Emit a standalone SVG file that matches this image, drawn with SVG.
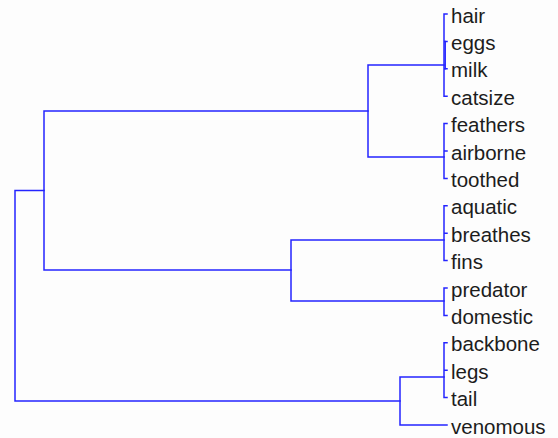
<svg xmlns="http://www.w3.org/2000/svg" width="558" height="438" viewBox="0 0 558 438">
  <style>
    .link { fill: none; stroke: #2424ff; stroke-width: 1.5; stroke-linejoin: miter; stroke-linecap: square; }
    .leaf { font-family: "Liberation Sans", Arial, sans-serif; font-size: 20.5px; fill: #1c1c1c; }
  </style>
  <rect width="558" height="438" fill="#fdfdfd"/>

  <!-- dendrogram branches -->
  <g id="connectors" class="link">
    <!-- root -->
    <path d="M44,190.5 H15 V401 H400"/>
    <!-- node A -->
    <path d="M368,111 H44 V270 H291"/>
    <!-- node B -->
    <path d="M444,65 H368 V157 H444"/>
    <!-- node C -->
    <path d="M444,240 H291 V301 H444"/>
    <!-- node D -->
    <path d="M444,377 H400 V425 H447"/>

    <!-- hair / eggs / milk / catsize -->
    <path d="M447,14 H444 V96.2 H447 M444,41.4 H447 M444,68.8 H447"/>
    <path d="M445.2,41.4 V68.8"/>
    <!-- feathers / airborne / toothed -->
    <path d="M447,123.6 H444 V178.4 H447 M444,151 H447"/>
    <!-- aquatic / breathes / fins -->
    <path d="M447,205.8 H444 V260.6 H447 M444,233.2 H447"/>
    <!-- predator / domestic -->
    <path d="M447,288 H444 V315.4 H447"/>
    <!-- backbone / legs / tail -->
    <path d="M447,342.8 H444 V397.6 H447 M444,370.2 H447"/>
  </g>

  <!-- leaves -->
  <g id="hair"><text class="leaf" x="451" y="22.5">hair</text></g>
  <g id="eggs"><text class="leaf" x="451" y="49.9">eggs</text></g>
  <g id="milk"><text class="leaf" x="451" y="77.3">milk</text></g>
  <g id="catsize"><text class="leaf" x="451" y="104.7">catsize</text></g>
  <g id="feathers"><text class="leaf" x="451" y="132.1">feathers</text></g>
  <g id="airborne"><text class="leaf" x="451" y="159.5">airborne</text></g>
  <g id="toothed"><text class="leaf" x="451" y="186.9">toothed</text></g>
  <g id="aquatic"><text class="leaf" x="451" y="214.3">aquatic</text></g>
  <g id="breathes"><text class="leaf" x="451" y="241.7">breathes</text></g>
  <g id="fins"><text class="leaf" x="451" y="269.1">fins</text></g>
  <g id="predator"><text class="leaf" x="451" y="296.5">predator</text></g>
  <g id="domestic"><text class="leaf" x="451" y="323.9">domestic</text></g>
  <g id="backbone"><text class="leaf" x="451" y="351.3">backbone</text></g>
  <g id="legs"><text class="leaf" x="451" y="378.7">legs</text></g>
  <g id="tail"><text class="leaf" x="451" y="406.1">tail</text></g>
  <g id="venomous"><text class="leaf" x="451" y="433.5">venomous</text></g>
</svg>
